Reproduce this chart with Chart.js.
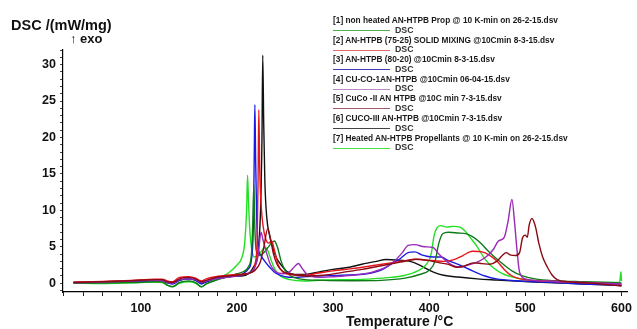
<!DOCTYPE html>
<html><head><meta charset="utf-8">
<script src="https://cdn.jsdelivr.net/npm/chart.js@4.4.1/dist/chart.umd.min.js"></script>
<style>
html,body{margin:0;padding:0;background:#fff;}
#wrap{position:relative;width:637px;height:329px;overflow:hidden;font-family:"Liberation Sans",Arial,sans-serif;}
canvas{position:absolute;left:0;top:0;}
.lt{position:absolute;font-weight:bold;font-size:8.3px;color:#1a1a1a;white-space:nowrap;line-height:10px;}
.ll{position:absolute;height:1px;}
.ld{position:absolute;font-weight:bold;font-size:8.8px;color:#333;line-height:10px;}
.ax{position:absolute;font-weight:bold;color:#111;white-space:nowrap;}
</style></head>
<body><div id="wrap"><canvas id="c" width="637" height="329"></canvas></div>
<script>
// ---- data (temperature °C, DSC mW/mg) ----
const legendLabels = [
 "[1] non heated AN-HTPB Prop @ 10 K-min on 26-2-15.dsv",
 "[2] AN-HTPB (75-25) SOLID MIXING @10Cmin 8-3-15.dsv",
 "[3] AN-HTPB (80-20)  @10Cmin 8-3-15.dsv",
 "[4] CU-CO-1AN-HTPB @10Cmin 06-04-15.dsv",
 "[5] CuCo -II AN HTPB @10C min 7-3-15.dsv",
 "[6] CUCO-III AN-HTPB @10Cmin 7-3-15.dsv",
 "[7] Heated AN-HTPB Propellants @ 10 K-min on 26-2-15.dsv"
];
const xTickValues = [100,200,300,400,500,600];
const yTickValues = [0,5,10,15,20,25,30];

// [1] non heated (dark green)
const s1T = [30,60,90,115,122,128,133,140,150,157,163,168,178,190,200,205,212,215,216.5,217.5,218.5,220,223,228,234,239,242,246,250,256,265,290,320,350,375,390,400,406,410,414,420,430,438,445,452,460,468,476,486,497,510,530,560,600];
const s1V = [0,0.05,0.1,0.2,0.2,-0.3,-0.5,0.1,0.3,0.1,-0.5,-0.1,0.4,0.9,1.3,1.5,2.3,4,8.5,13.5,8,4.5,3.8,4.2,5.2,5.8,5,3,1.8,1,0.6,0.4,0.35,0.4,0.7,1.2,1.8,3,5.5,6.8,7,6.9,6.8,6.4,5.7,4.6,3.6,2.7,1.7,1,0.6,0.35,0.2,0.05];
// [2] AN-HTPB 75-25 (red)
const s2T = [30,60,90,115,122,128,133,140,150,157,163,168,178,190,200,210,216,219,221,222,222.7,223.6,225,227,230,233,236,239,243,248,255,270,285,300,320,340,360,375,385,395,405,415,425,435,445,455,462,470,478,485,495,520,560,600];
const s2V = [0.15,0.25,0.4,0.55,0.55,0.3,0.2,0.8,0.9,0.7,0.3,0.6,0.9,1.1,1.2,1.3,1.6,2.8,6,15,23.8,16,11,8,6,5.5,5.8,4.5,2.5,1.5,1.2,1.1,1.4,1.7,2,2.4,2.8,3.1,3.3,3.2,3.1,3,3.2,3.8,4.4,4.3,3.9,3.1,1.9,1.1,0.6,0.3,0.1,-0.1];
// [3] AN-HTPB 80-20 (blue)
const s3T = [30,60,90,115,122,128,133,140,150,157,163,168,178,190,200,205,212,215,217,218,218.6,219.4,220.5,222,225,229,234,240,250,260,283,310,335,350,360,370,378,385,392,404,412,420,432,445,458,470,490,520,560,600];
const s3V = [0.1,0.1,0.2,0.35,0.35,0.05,-0.1,0.4,0.6,0.4,-0.1,0.2,0.7,1,1,1.2,2,3.2,8,18,24.5,17,9,5,3.8,3,2.2,1.4,0.9,0.8,1,1.1,1.3,1.8,2.6,3.4,4.2,4.3,3.9,3.6,3.6,3.1,2.5,1.7,1,0.6,0.35,0.15,-0.1,-0.25];
// [4] CU-CO-1 (purple)
const s4T = [30,60,90,115,122,128,133,140,150,157,163,168,178,190,200,210,218,222,225,227,230,235,240,248,255,260,264,268,273,285,300,320,340,355,365,372,378,385,395,404,410,418,425,432,440,450,460,467,472,478,482,486,489,491,494,500,520,560,600];
const s4V = [0.05,0.15,0.3,0.4,0.35,0.1,0,0.5,0.6,0.5,0.1,0.3,0.6,0.8,1,1.3,2,3.8,7,6,4.5,2.5,1.6,1.3,1.6,2.3,2.7,2,1.2,0.8,0.9,1.1,1.5,2.2,3.2,4.2,5.2,5.3,5,4.9,4,3,2.4,2.2,2.5,2.9,3.7,4.7,5.8,6.3,8.5,11.5,8,5,1.5,0.6,0.3,0.1,-0.1];
// [5] CuCo-II (dark red)
const s5T = [30,60,90,115,122,128,133,140,150,157,163,168,178,190,200,210,218,224,228,232,235,238,242,248,255,270,290,310,330,350,370,387,400,411,420,428,435,446,455,463,470,476,480,484,490,494,497,500,502,504,507,509,511,514,518,523,528,533,545,570,600];
const s5V = [0.1,0.2,0.35,0.5,0.5,0.2,0.1,0.6,0.8,0.6,0.2,0.4,0.8,1,1.1,1.3,1.7,2.8,5,7.5,6,4,2.5,1.6,1.3,1,1.1,1.5,1.9,2.4,2.9,3.3,3.1,2.8,2.6,2.2,2.3,2.8,2.7,2.6,3,3.8,4.2,3.9,3.8,4.2,6.2,6.6,6.3,8,8.9,8.4,7.5,5.5,3.6,2.2,1.1,0.5,0.2,0,-0.4];
// [6] CUCO-III (black)
const s6T = [30,60,90,115,122,128,133,140,150,157,163,168,178,190,200,205,212,217,222,224.5,226,226.8,227.8,229,231,234,237,241,246,252,260,270,283,300,317,330,345,355,365,380,390,397,405,415,430,450,470,500,530,560,590,600];
const s6V = [0.1,0.2,0.3,0.45,0.4,0.05,0,0.4,0.6,0.4,0,0.2,0.5,0.9,1,1,1.3,2.2,4.5,10,20,31.3,22,14,9,6.5,5,3.5,2.5,1.6,1.2,1.2,1.5,1.9,2.2,2.6,3,3.25,3.2,3,2.5,2,1.5,1.1,0.85,0.6,0.45,0.25,0.05,-0.1,-0.25,-0.3];
// [7] heated (bright green)
const s7T = [30,60,90,115,122,128,133,140,150,157,163,168,178,190,200,205,208,210,211,212,213.5,215.5,218,222,226,229,232,236,240,245,255,270,290,320,340,360,375,388,397,402,405,408,412,418,425,432,437,443,450,458,466,475,485,500,530,560,590,598,599.5,600];
const s7V = [0,-0.05,0.05,0.15,0.1,-0.3,-0.45,0,0.2,0,-0.5,-0.1,0.6,1.3,2.5,3.5,5.5,10,14.8,11,7,4.5,3.6,3.8,4.5,4.9,4.5,3,1.8,1,0.5,0.3,0.45,0.5,0.6,0.8,1.1,1.7,2.6,4,6.5,7.6,7.9,7.7,7.8,7.7,7.2,6.2,5,3.3,2.2,1.4,0.9,0.5,0.25,0.15,0.1,0.1,1.6,0.3];

const seriesT = [s1T,s2T,s3T,s4T,s5T,s6T,s7T];
const seriesV = [s1V,s2V,s3V,s4V,s5V,s6V,s7V];
const curveColors = ['#0f7a1a','#e8141c','#1a1ae0','#9a2ab8','#8c0a14','#111111','#22e022'];
const legendLineColors = ['#4caf50','#e86a6a','#4040b8','#b88ac8','#a05a6a','#444444','#46e046'];
const drawOrder = [4,3,1,0,2,6,5];

const datasets = drawOrder.map(i => ({
  label: legendLabels[i],
  data: seriesT[i].map((t,k) => ({x:t, y:seriesV[i][k]})),
  borderColor: curveColors[i],
  borderWidth: 1.4,
  pointRadius: 0,
  showLine: true,
  fill: false,
  cubicInterpolationMode: 'monotone'
}));

const xMinor = []; for (let v = 20; v <= 600; v += 20) xMinor.push(v);
const yMinor = []; for (let v = -1; v <= 32; v += 1) yMinor.push(v);

new Chart(document.getElementById('c'), {
  type: 'scatter',
  data: {datasets},
  options: {
    responsive: false, animation: false, devicePixelRatio: 1,
    layout: {padding: {top: 50, right: 9, left: 0, bottom: 0}},
    plugins: {legend: {display: false}, tooltip: {enabled: false}},
    scales: {
      x: {
        type: 'linear', min: 19, max: 606,
        afterFit: s => { s.height = 37; },
        afterBuildTicks: s => { s.ticks = xMinor.map(v => ({value: v})); },
        grid: {drawOnChartArea: false, drawTicks: true, tickLength: 4, color: '#222'},
        border: {color: '#000', width: 1.2},
        ticks: {autoSkip: false, maxRotation: 0, padding: 5, color: '#111',
          font: {family: '"Liberation Sans", Arial, sans-serif', size: 12.5, weight: 'bold'},
          callback: v => xTickValues.includes(v) ? String(v) : ''}
      },
      y: {
        type: 'linear', min: -1.2, max: 32,
        afterFit: s => { s.width = 63; },
        afterBuildTicks: s => { s.ticks = yMinor.map(v => ({value: v})); },
        grid: {drawOnChartArea: false, drawTicks: true, tickLength: 3, color: '#444'},
        border: {color: '#000', width: 1.2},
        ticks: {autoSkip: false, padding: 4, color: '#111',
          font: {family: '"Liberation Sans", Arial, sans-serif', size: 12.5, weight: 'bold'},
          callback: v => yTickValues.includes(v) ? String(v) : ''}
      }
    }
  }
});

// legend & axis titles as HTML text
const wrap = document.getElementById('wrap');
legendLabels.forEach((txt, i) => {
  const top = 15 + i * 19.6;
  const t = document.createElement('div'); t.className = 'lt';
  t.style.left = '333px'; t.style.top = top + 'px'; t.textContent = txt; wrap.appendChild(t);
  const l = document.createElement('div'); l.className = 'll';
  l.style.left = '333px'; l.style.top = (top + 15) + 'px'; l.style.width = '57px';
  l.style.background = legendLineColors[i]; wrap.appendChild(l);
  const d = document.createElement('div'); d.className = 'ld';
  d.style.left = '395px'; d.style.top = (top + 9.5) + 'px'; d.textContent = 'DSC'; wrap.appendChild(d);
});
function addTitle(text, left, top, size) {
  const e = document.createElement('div'); e.className = 'ax';
  e.style.left = left + 'px'; e.style.top = top + 'px'; e.style.fontSize = size + 'px';
  e.textContent = text; wrap.appendChild(e);
}
addTitle('DSC /(mW/mg)', 11, 17, 14.5);
addTitle('↑ exo', 70, 31, 13);
addTitle('Temperature /°C', 346, 313, 14);
</script>
</body></html>
